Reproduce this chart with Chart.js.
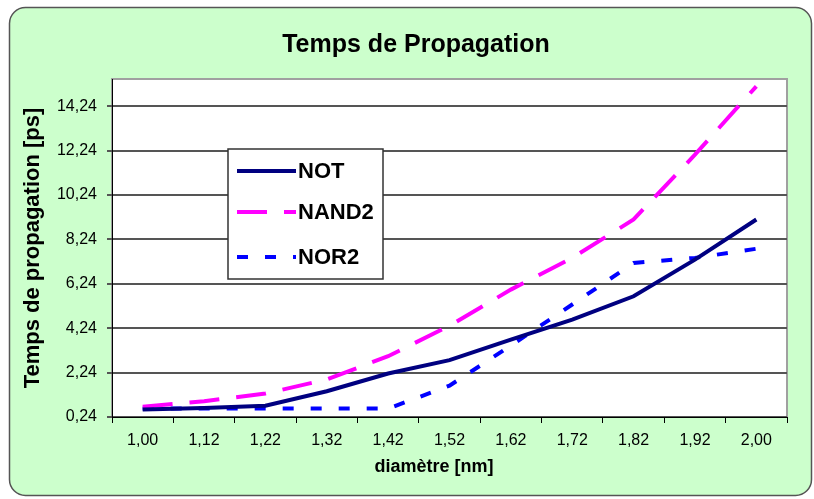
<!DOCTYPE html>
<html>
<head>
<meta charset="utf-8">
<script src="https://cdn.jsdelivr.net/npm/chart.js@4/dist/chart.umd.min.js"></script>
<style>
  body { margin: 0; background: #ffffff; }
  #wrap { width: 814px; height: 499px; }
</style>
</head>
<body>
<div id="wrap"><canvas id="delayChart"></canvas></div>
<script>
// Diameters (nm) on the x axis
const diameters = ['1,00', '1,12', '1,22', '1,32', '1,42', '1,52', '1,62', '1,72', '1,82', '1,92', '2,00'];

// Propagation delays (ps)
const notDelays   = [0.58, 0.65, 0.75, 1.40, 2.20, 2.80, 3.73, 4.63, 5.68, 7.33, 9.14];
const nand2Delays = [0.70, 0.95, 1.30, 1.93, 2.98, 4.35, 5.98, 7.41, 9.14, 12.06, 15.14];
const nor2Delays  = [0.62, 0.62, 0.62, 0.62, 0.62, 1.65, 3.46, 5.31, 7.18, 7.41, 7.82];

// Y axis ticks
const yTicks = [0.24, 2.24, 4.24, 6.24, 8.24, 10.24, 12.24, 14.24];
const yMin = 0.24;
const yMax = 15.47;

const chartTitle = 'Temps de Propagation';
const xTitle = 'diamètre [nm]';
const yTitle = 'Temps de propagation [ps]';

const FONT = '"Liberation Sans", Arial, sans-serif';
const fmtComma = v => v.toFixed(2).replace('.', ',');

// Draws the green rounded frame and the white plot area
const backgroundPlugin = {
    id: 'excelBackground',
    beforeDraw(chart) {
        const ctx = chart.ctx;
        const area = chart.chartArea;
        ctx.save();
        ctx.fillStyle = '#ffffff';
        ctx.fillRect(0, 0, chart.width, chart.height);

        ctx.beginPath();
        ctx.roundRect(9.5, 7.5, 802, 488, 16);
        ctx.fillStyle = '#ccffcc';
        ctx.fill();
        ctx.lineWidth = 1.5;
        ctx.strokeStyle = '#555555';
        ctx.stroke();

        ctx.fillStyle = '#ffffff';
        ctx.fillRect(area.left, area.top, area.right - area.left, area.bottom - area.top);
        ctx.lineWidth = 2;
        ctx.strokeStyle = '#a0a0a0';
        ctx.strokeRect(area.left, area.top, area.right - area.left, area.bottom - area.top);

        // chart title and x axis title (Excel puts them off-centre)
        ctx.fillStyle = '#000000';
        ctx.textAlign = 'center';
        ctx.textBaseline = 'middle';
        ctx.font = 'bold 25px ' + FONT;
        ctx.fillText(chartTitle, 416, 45);
        ctx.font = 'bold 18px ' + FONT;
        ctx.fillText(xTitle, 434, 467);
        ctx.restore();
    }
};

// Legend box inside the plot, like the Excel original
const boxLegendPlugin = {
    id: 'boxLegend',
    afterDraw(chart) {
        const ctx = chart.ctx;
        const rowsY = [171, 212, 257];
        ctx.save();
        ctx.fillStyle = '#ffffff';
        ctx.fillRect(228, 149, 155, 130);
        ctx.lineWidth = 1.5;
        ctx.strokeStyle = '#333333';
        ctx.strokeRect(228, 149, 155, 130);

        chart.data.datasets.forEach((ds, i) => {
            const y = rowsY[i];
            ctx.beginPath();
            ctx.setLineDash(ds.borderDash || []);
            ctx.lineWidth = ds.borderWidth;
            ctx.strokeStyle = ds.borderColor;
            ctx.moveTo(237, y);
            ctx.lineTo(296, y);
            ctx.stroke();
            ctx.setLineDash([]);

            ctx.fillStyle = '#000000';
            ctx.font = 'bold 22px ' + FONT;
            ctx.textBaseline = 'middle';
            ctx.fillText(ds.label, 298, y + 1);
        });
        ctx.restore();
    }
};

const ctx = document.getElementById('delayChart').getContext('2d');
window.delayChart = new Chart(ctx, {
    type: 'line',
    data: {
        labels: diameters,
        datasets: [{
            label: 'NOT',
            data: notDelays,
            borderColor: '#000080',
            borderWidth: 4,
            borderDash: []
        }, {
            label: 'NAND2',
            data: nand2Delays,
            borderColor: '#ff00ff',
            borderWidth: 4,
            borderDash: [30, 17]
        }, {
            label: 'NOR2',
            data: nor2Delays,
            borderColor: '#0000ff',
            borderWidth: 4,
            borderDash: [11, 17]
        }]
    },
    options: {
        responsive: true,
        maintainAspectRatio: false,
        animation: false,
        elements: {
            point: { radius: 0 },
            line: { tension: 0, borderCapStyle: 'butt' }
        },
        layout: {
            padding: { left: 14, right: 27, top: 79, bottom: 0 }
        },
        plugins: {
            legend: { display: false },
            tooltip: { enabled: false },
            title: { display: false }
        },
        scales: {
            x: {
                offset: true,
                afterFit: scale => { scale.height = 82; },
                grid: {
                    offset: true,
                    drawOnChartArea: false,
                    color: '#000000',
                    tickLength: 6
                },
                border: { color: '#000000', width: 1 },
                ticks: {
                    color: '#000000',
                    padding: 8,
                    maxRotation: 0,
                    font: { family: FONT, size: 16 }
                },
                title: { display: false }
            },
            y: {
                min: yMin,
                max: yMax,
                afterFit: scale => { scale.width = 98; },
                afterBuildTicks: scale => {
                    scale.ticks = yTicks.map(v => ({ value: v }));
                },
                grid: {
                    color: '#555555',
                    lineWidth: 2,
                    tickLength: 5
                },
                border: { color: '#000000', width: 1 },
                ticks: {
                    color: '#000000',
                    padding: 10,
                    font: { family: FONT, size: 16 },
                    callback: value => fmtComma(value)
                },
                title: {
                    display: true,
                    text: yTitle,
                    color: '#000000',
                    font: { family: FONT, size: 22, weight: 'bold' },
                    padding: { top: 6, bottom: 0 }
                }
            }
        }
    },
    plugins: [backgroundPlugin, boxLegendPlugin]
});
</script>
</body>
</html>
